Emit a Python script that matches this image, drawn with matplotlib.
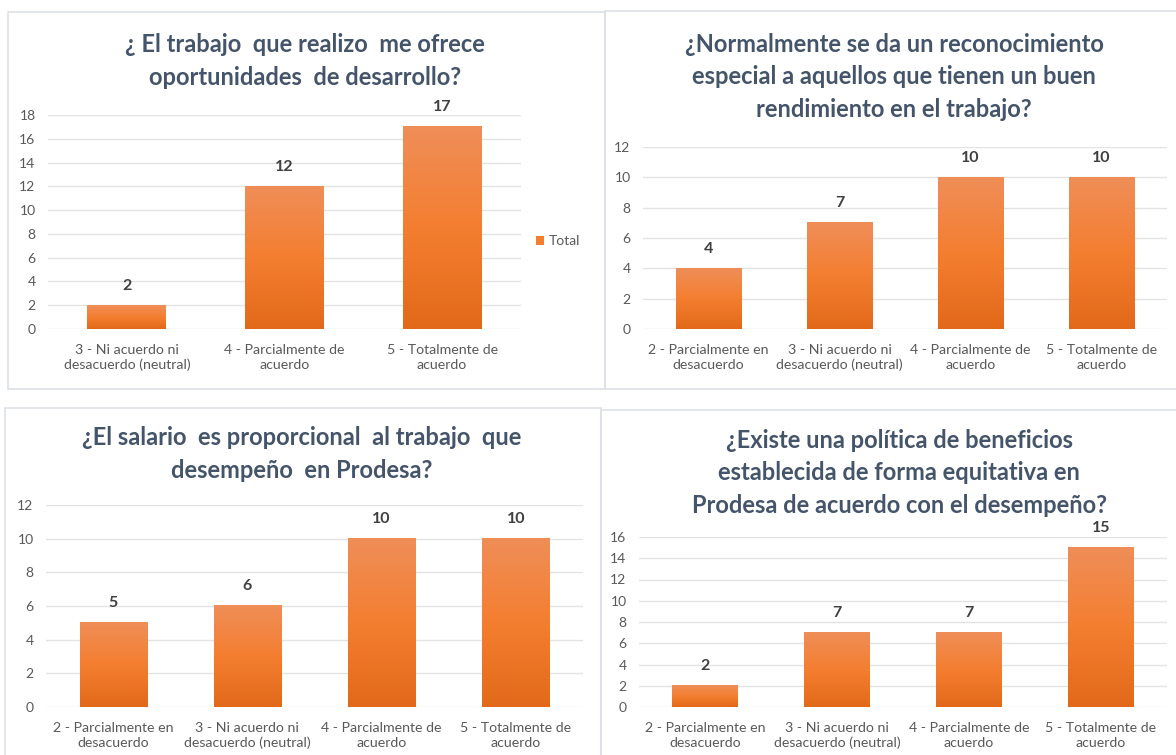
import matplotlib.pyplot as plt
import numpy as np
from matplotlib.colors import LinearSegmentedColormap
from matplotlib.patches import Rectangle

# --- data ---
cats_a = ['3 - Ni acuerdo ni\ndesacuerdo (neutral)', '4 - Parcialmente de\nacuerdo',
          '5 - Totalmente de\nacuerdo']
cats_b = ['2 - Parcialmente en\ndesacuerdo', '3 - Ni acuerdo ni\ndesacuerdo (neutral)',
          '4 - Parcialmente de\nacuerdo', '5 - Totalmente de\nacuerdo']

vals_desarrollo = [2, 12, 17]
vals_reconocimiento = [4, 7, 10, 10]
vals_salario = [5, 6, 10, 10]
vals_beneficios = [2, 7, 7, 15]

title_desarrollo = '¿ El trabajo  que realizo  me ofrece\noportunidades  de desarrollo?'
title_reconocimiento = ('¿Normalmente se da un reconocimiento\n'
                        'especial a aquellos que tienen un buen\n'
                        'rendimiento en el trabajo?')
title_salario = '¿El salario  es proporcional  al trabajo  que\ndesempeño  en Prodesa?'
title_beneficios = ('¿Existe una política de beneficios\n'
                    'establecida de forma equitativa en\n'
                    'Prodesa de acuerdo con el desempeño?')

ymax = [18, 12, 12, 16]

plt.rcParams['font.family'] = ['Lato', 'DejaVu Sans']

W, H = 1176, 755
fig = plt.figure(figsize=(W / 100, H / 100), dpi=100)
fig.patch.set_facecolor('white')

grad = LinearSegmentedColormap.from_list('orng', ['#E2691A', '#F47E30', '#EF8E58'])
TXT = '#595959'
TITLE = '#44546A'


def px_axes(x0, x1, y_bottom, y_top):
    return fig.add_axes([x0 / W, 1 - y_bottom / H, (x1 - x0) / W, (y_bottom - y_top) / H])


def panel(ax, cats, vals, top, legend=False):
    x = np.arange(len(cats))
    bars = ax.bar(x, vals, width=0.5, color='#F47E30', zorder=2, label='Total')
    g = np.linspace(0, 1, 256).reshape(-1, 1)
    for b in bars:
        ax.imshow(g, cmap=grad, origin='lower', aspect='auto', zorder=3,
                  extent=[b.get_x(), b.get_x() + b.get_width(), 0, b.get_height()])
    for xi, v in zip(x, vals):
        ax.annotate(str(v), (xi, v), xytext=(0, 9), textcoords='offset points',
                    ha='center', va='bottom', fontsize=11.5, fontweight='bold', color='#404040')
    ax.set_xlim(-0.5, len(cats) - 0.5)
    ax.set_ylim(0, top)
    ax.set_yticks(np.arange(0, top + 1, 2))
    ax.set_xticks(x)
    ax.set_xticklabels(cats, fontsize=10.2, color=TXT, linespacing=1.25)
    ax.tick_params(axis='y', labelsize=10, labelcolor=TXT, length=0, pad=9)
    ax.tick_params(axis='x', length=0, pad=11)
    for s in ax.spines.values():
        s.set_visible(False)
    ax.grid(axis='y', color='#E3E3E3', linewidth=1.0, zorder=0)
    ax.set_axisbelow(True)
    if legend:
        ax.legend(loc='center left', bbox_to_anchor=(1.02, 0.41), frameon=False,
                  handlelength=0.6, handleheight=0.6, handletextpad=0.35,
                  borderaxespad=0, fontsize=10, labelcolor=TXT)


# panel borders
for x0, y0, x1, y1 in [(8, 12, 605, 389), (605, 11, 1180, 389),
                       (5, 408, 601, 760), (601, 410, 1180, 760)]:
    fig.add_artist(Rectangle((x0 / W, 1 - y1 / H), (x1 - x0) / W, (y1 - y0) / H,
                             transform=fig.transFigure, fill=False,
                             edgecolor='#DDE0E6', linewidth=1.2))

ax1 = px_axes(48, 521, 329, 115)
panel(ax1, cats_a, vals_desarrollo, ymax[0], legend=True)
ax2 = px_axes(643, 1167, 329, 147)
panel(ax2, cats_b, vals_reconocimiento, ymax[1])
ax3 = px_axes(46, 583, 707, 505)
panel(ax3, cats_b, vals_salario, ymax[2])
ax4 = px_axes(639, 1167, 707, 537)
panel(ax4, cats_b, vals_beneficios, ymax[3])

for tx, cx, cy in [(title_desarrollo, 305, 61), (title_reconocimiento, 894, 77),
                   (title_salario, 302, 454), (title_beneficios, 899, 473)]:
    fig.text(cx / W, 1 - cy / H, tx, ha='center', va='center', fontsize=17,
             fontweight='bold', color=TITLE, linespacing=1.5)

fig.savefig('out.png', dpi=100, facecolor='white')
